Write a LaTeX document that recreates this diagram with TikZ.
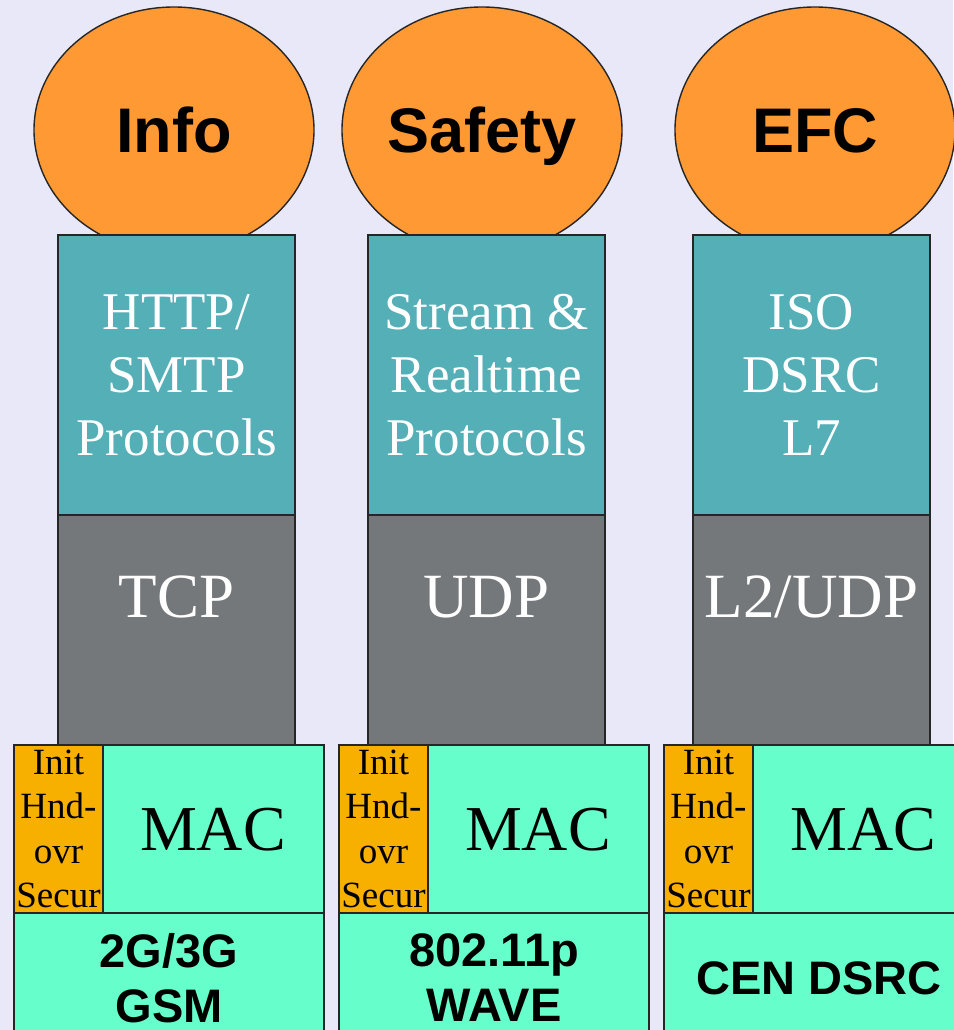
\documentclass[tikz,border=0pt]{standalone}
\usepackage{fontspec}
\setmainfont{Liberation Serif}
\setsansfont{Liberation Sans}
\usetikzlibrary{shapes.geometric}
\definecolor{bgc}{HTML}{E8E8F8}
\definecolor{appc}{HTML}{FF9933}
\definecolor{protc}{HTML}{55AFB7}
\definecolor{transc}{HTML}{75787B}
\definecolor{macc}{HTML}{66FFCC}
\definecolor{hndc}{HTML}{F7B000}
\begin{document}
\begin{tikzpicture}[x=1pt,y=-1pt,
  edge/.style={draw=black!85,line width=1.4pt,inner sep=0pt,outer sep=0pt},
  app/.style={edge,ellipse,fill=appc,minimum width=280pt,minimum height=246pt},
  apptxt/.style={inner sep=0pt,text height=45pt,text depth=0pt,
    font=\sffamily\bfseries\fontsize{63}{70}\selectfont},
  blk/.style={edge,rectangle,anchor=north west},
  prot/.style={blk,fill=protc,minimum width=237pt,minimum height=280pt,text=white,
    align=center,font=\fontsize{53}{63}\selectfont},
  trans/.style={blk,fill=transc,minimum width=237pt,minimum height=230pt},
  transtxt/.style={text=white,font=\fontsize{63}{70}\selectfont,inner sep=0pt},
  mac/.style={blk,fill=macc,minimum width=310pt,minimum height=168pt},
  mactxt/.style={font=\fontsize{64}{70}\selectfont,inner sep=0pt},
  hnd/.style={blk,fill=hndc,minimum width=89pt,minimum height=168pt,align=center,
    font=\fontsize{37}{44.5}\selectfont},
  phy/.style={blk,fill=macc,minimum width=310pt,minimum height=130pt,align=center,
    font=\sffamily\bfseries\fontsize{47}{55}\selectfont},
]
\fill[bgc] (0,0) rectangle (953,1030);
\useasboundingbox (0,0) rectangle (953,1030);

% application ellipses
\node[app] (info) at (174,130) {};
\node[app] (safety) at (482,130) {};
\node[app] (efc) at (815,130) {};
\node[apptxt] (infol) at (info.center) {Info};
\node[apptxt] (safetyl) at (safety.center) {Safety};
\node[apptxt] (efcl) at (efc.center) {EFC};

% protocol boxes
\node[prot] (p1) at (58,235) {HTTP/\\SMTP\\Protocols};
\node[prot] (p2) at (368,235) {Stream \&\\Realtime\\Protocols};
\node[prot] (p3) at (693,235) {ISO\\DSRC\\L7};

% transport boxes
\node[trans] (t1) at (58,515) {};
\node[trans] (t2) at (368,515) {};
\node[trans] (t3) at (693,515) {};
\node[transtxt] (t1l) at (176.5,597) {TCP};
\node[transtxt] (t2l) at (486.5,597) {UDP};
\node[transtxt] (t3l) at (811.5,597) {L2/UDP};

% MAC boxes
\node[mac] (m1) at (14,745) {};
\node[mac] (m2) at (339,745) {};
\node[mac] (m3) at (664,745) {};
\node[mactxt] (m1l) at (213,830) {MAC};
\node[mactxt] (m2l) at (538,830) {MAC};
\node[mactxt] (m3l) at (863,830) {MAC};

% handover boxes
\node[hnd] (h1) at (14,745) {Init\\Hnd-\\ovr\\Secur};
\node[hnd] (h2) at (339,745) {Init\\Hnd-\\ovr\\Secur};
\node[hnd] (h3) at (664,745) {Init\\Hnd-\\ovr\\Secur};

% physical boxes
\node[phy] (y1) at (14,913) {2G/3G\\GSM};
\node[phy] (y2) at (339,913) {802.11p\\WAVE};
\node[phy] (y3) at (664,913) {CEN DSRC};
\end{tikzpicture}
\end{document}
